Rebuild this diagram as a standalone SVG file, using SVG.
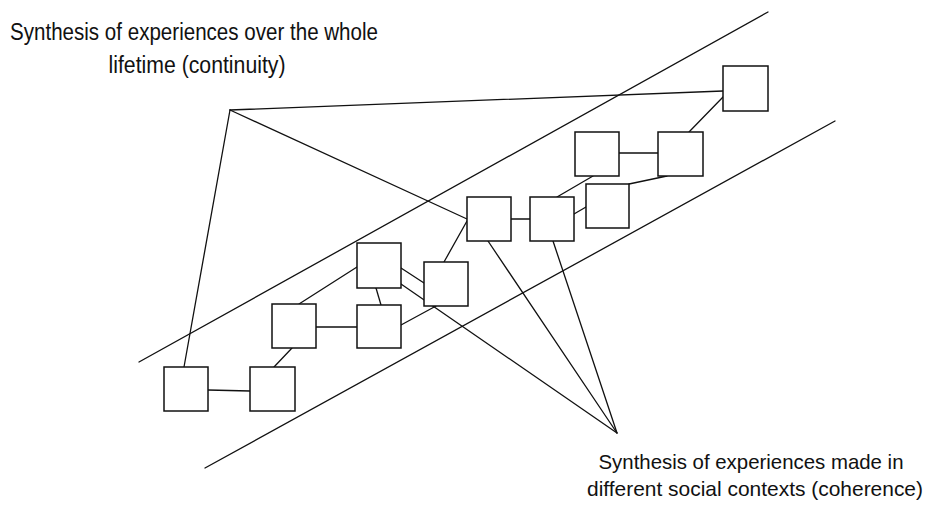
<svg xmlns="http://www.w3.org/2000/svg" width="930" height="508" viewBox="0 0 930 508">
  <style>
    .ln { stroke: #111; stroke-width: 1.3; fill: none; stroke-linecap: round; }
    .box { fill: #fff; stroke: #111; stroke-width: 1.5; }
    .lbl { font-family: "Liberation Sans", Arial, sans-serif; font-size: 23px; fill: #111; text-anchor: middle; }
    .lbl-sm { font-family: "Liberation Sans", Arial, sans-serif; font-size: 21px; fill: #111; text-anchor: middle; }
  </style>
  <rect width="930" height="508" fill="#fff"/>

  <g id="connectors">
    <!-- band edges -->
    <line class="ln" x1="139" y1="362" x2="768" y2="12"/>
    <line class="ln" x1="205" y1="468" x2="835" y2="121"/>
    <!-- continuity apex -->
    <line class="ln" x1="230" y1="110" x2="184" y2="367"/>
    <line class="ln" x1="230" y1="110" x2="723" y2="91"/>
    <line class="ln" x1="230" y1="110" x2="467" y2="219"/>
    <!-- coherence apex -->
    <line class="ln" x1="617" y1="433" x2="488" y2="241"/>
    <line class="ln" x1="617" y1="433" x2="553" y2="241"/>
    <line class="ln" x1="617" y1="433" x2="401" y2="284"/>
    <!-- links between experiences -->
    <line class="ln" x1="208" y1="390" x2="250" y2="391"/>
    <line class="ln" x1="274" y1="367" x2="292" y2="348"/>
    <line class="ln" x1="316" y1="327" x2="357" y2="327"/>
    <line class="ln" x1="299" y1="304" x2="357" y2="267"/>
    <line class="ln" x1="376" y1="288" x2="381" y2="305"/>
    <line class="ln" x1="401" y1="268" x2="424" y2="283"/>
    <line class="ln" x1="401" y1="325" x2="436" y2="306"/>
    <line class="ln" x1="444" y1="262" x2="467" y2="221"/>
    <line class="ln" x1="511" y1="219" x2="530" y2="219"/>
    <line class="ln" x1="557" y1="197" x2="593" y2="176"/>
    <line class="ln" x1="574" y1="214" x2="586" y2="207"/>
    <line class="ln" x1="629" y1="184" x2="667" y2="176"/>
    <line class="ln" x1="619" y1="153" x2="658" y2="153"/>
    <line class="ln" x1="689" y1="132" x2="723" y2="97"/>
  </g>

  <g id="exp-a"><rect class="box" x="164" y="367" width="44" height="44"/></g>
  <g id="exp-b"><rect class="box" x="250" y="367" width="45" height="44"/></g>
  <g id="exp-c"><rect class="box" x="272" y="304" width="44" height="44"/></g>
  <g id="exp-d"><rect class="box" x="357" y="305" width="44" height="43"/></g>
  <g id="exp-e"><rect class="box" x="357" y="243" width="44" height="45"/></g>
  <g id="exp-f"><rect class="box" x="424" y="262" width="44" height="44"/></g>
  <g id="exp-g"><rect class="box" x="467" y="197" width="44" height="44"/></g>
  <g id="exp-h"><rect class="box" x="530" y="197" width="44" height="44"/></g>
  <g id="exp-i"><rect class="box" x="586" y="184" width="43" height="44"/></g>
  <g id="exp-j"><rect class="box" x="575" y="132" width="44" height="44"/></g>
  <g id="exp-k"><rect class="box" x="658" y="132" width="45" height="44"/></g>
  <g id="exp-l"><rect class="box" x="723" y="66" width="45" height="45"/></g>

  <g id="label-continuity">
    <text class="lbl" x="194" y="40" textLength="368" lengthAdjust="spacingAndGlyphs">Synthesis of experiences over the whole</text>
    <text class="lbl" x="197" y="73" textLength="177" lengthAdjust="spacingAndGlyphs">lifetime (continuity)</text>
  </g>
  <g id="label-coherence">
    <text class="lbl-sm" x="751" y="469" textLength="305" lengthAdjust="spacingAndGlyphs">Synthesis of experiences made in</text>
    <text class="lbl-sm" x="755" y="496" textLength="336" lengthAdjust="spacingAndGlyphs">different social contexts (coherence)</text>
  </g>
</svg>
